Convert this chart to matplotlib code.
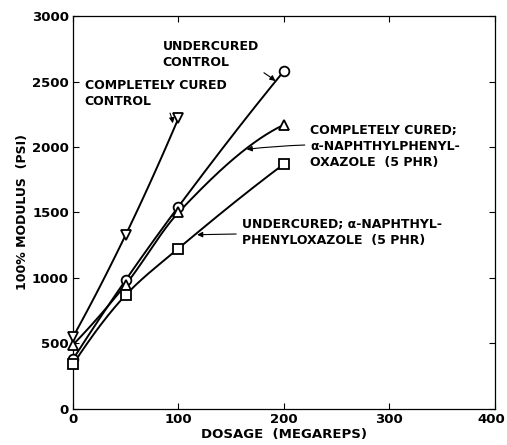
import numpy as np
import matplotlib
matplotlib.use("Agg")
import matplotlib.pyplot as plt
import matplotlib.transforms as mtransforms

dose_cc = [0, 50, 100]
mod_cc = [550, 1330, 2220]          # completely cured control (down triangle)
dose = [0, 50, 100, 200]
mod_uc = [380, 985, 1545, 2580]     # undercured control (circle)
mod_ccn = [490, 950, 1500, 2170]    # completely cured, naphthyl (up triangle)
mod_ucn = [340, 870, 1225, 1870]    # undercured, naphthyl (square)

plt.rcParams['font.family'] = ['DejaVu Sans']
fig = plt.figure(figsize=(5.07, 4.45), dpi=100)
ax = fig.add_axes([0.144, 0.081, 0.832, 0.883])

def pchip(x, y, n=60):
    x = np.asarray(x, float); y = np.asarray(y, float)
    h = np.diff(x); d = np.diff(y) / h
    m = np.zeros_like(y)
    m[0] = d[0]; m[-1] = d[-1]
    for k in range(1, len(x) - 1):
        if d[k - 1] * d[k] <= 0:
            m[k] = 0
        else:
            w1 = 2 * h[k] + h[k - 1]; w2 = h[k] + 2 * h[k - 1]
            m[k] = (w1 + w2) / (w1 / d[k - 1] + w2 / d[k])
    if len(x) > 2:
        m[0] = ((2 * h[0] + h[1]) * d[0] - h[0] * d[1]) / (h[0] + h[1])
        m[-1] = ((2 * h[-1] + h[-2]) * d[-1] - h[-1] * d[-2]) / (h[-1] + h[-2])
    xs_all, ys_all = [], []
    for k in range(len(x) - 1):
        t = np.linspace(0, 1, n)
        h00 = 2*t**3 - 3*t**2 + 1; h10 = t**3 - 2*t**2 + t
        h01 = -2*t**3 + 3*t**2; h11 = t**3 - t**2
        xs_all.append(x[k] + t * h[k])
        ys_all.append(h00*y[k] + h10*h[k]*m[k] + h01*y[k+1] + h11*h[k]*m[k+1])
    return np.concatenate(xs_all), np.concatenate(ys_all)

for x, y, m in [(dose_cc, mod_cc, 'v'), (dose, mod_uc, 'o'),
                (dose, mod_ccn, '^'), (dose, mod_ucn, 's')]:
    xs, ys = pchip(x, y)
    ax.plot(xs, ys, color='black', lw=1.4, clip_on=False)
    ax.plot(x, y, ls='none', marker=m, ms=7, mfc='white', mec='black', mew=1.3,
            clip_on=False, zorder=5)

ax.set_xlim(0, 400)
ax.set_ylim(0, 3000)
ax.set_xticks([0, 100, 200, 300, 400])
ax.set_yticks([0, 500, 1000, 1500, 2000, 2500, 3000])
ax.tick_params(direction='in', top=True, right=True, labelsize=9.5, length=4, pad=3)
for s in ax.spines.values():
    s.set_linewidth(0.9)
for lab in ax.get_xticklabels() + ax.get_yticklabels():
    lab.set_fontweight('bold')
last = ax.get_xticklabels()[-1]
last.set_transform(last.get_transform() +
                   mtransforms.ScaledTranslation(-4 / 100, 0, fig.dpi_scale_trans))

ax.set_xlabel('DOSAGE  (MEGAREPS)', fontsize=9.5, fontweight='bold', labelpad=1)
ax.set_ylabel('100% MODULUS  (PSI)', fontsize=9, fontweight='bold', labelpad=2)

fs = 9
akw = dict(arrowstyle='-|>', color='black', lw=0.8, mutation_scale=8)
ax.annotate('UNDERCURED\nCONTROL', xy=(194, 2490), xytext=(85, 2710),
            fontsize=fs, fontweight='bold', ha='left', va='center', linespacing=1.3,
            arrowprops=dict(**akw, connectionstyle='arc3,rad=-0.15'))
ax.annotate('COMPLETELY CURED\nCONTROL', xy=(95, 2160), xytext=(11, 2410),
            fontsize=fs, fontweight='bold', ha='left', va='center', linespacing=1.3,
            arrowprops=dict(**akw, connectionstyle='arc3,rad=-0.2'))
ax.annotate('COMPLETELY CURED;\n\u03b1-NAPHTHYLPHENYL-\nOXAZOLE  (5 PHR)', xy=(162, 1980),
            xytext=(225, 2000), fontsize=fs, fontweight='bold', ha='left', va='center',
            linespacing=1.3, arrowprops=dict(**akw, connectionstyle='arc3,rad=0.05'))
ax.annotate('UNDERCURED; \u03b1-NAPHTHYL-\nPHENYLOXAZOLE  (5 PHR)', xy=(115, 1330),
            xytext=(160, 1350), fontsize=fs, fontweight='bold', ha='left', va='center',
            linespacing=1.3, arrowprops=dict(**akw))

fig.savefig('out.png', dpi=100)
